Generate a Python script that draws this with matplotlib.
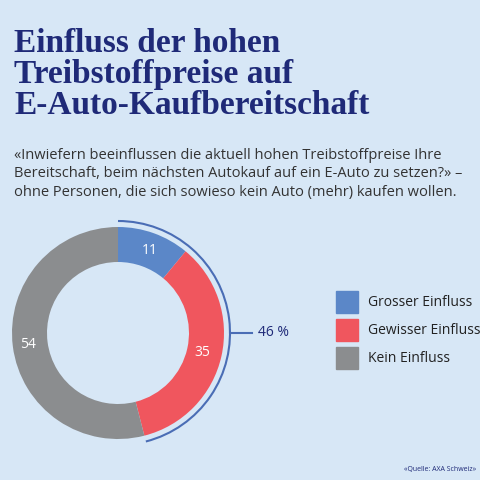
import matplotlib.pyplot as plt
from matplotlib.patches import Arc, Rectangle

labels = ['Grosser Einfluss', 'Gewisser Einfluss', 'Kein Einfluss']
values = [11, 35, 54]
colors = ['#5b87c8', '#f0565e', '#8b8d8f']
bracket_value = 46

bg = '#d7e7f6'
navy = '#1f2a78'

fig = plt.figure(figsize=(4.8, 4.8), dpi=100, facecolor=bg)
ax = fig.add_axes([0, 0, 1, 1])
ax.set_facecolor(bg)

# titel
title = 'Einfluss der hohen\nTreibstoffpreise auf\nE-Auto-Kaufbereitschaft'
ax.text(14, 452, title, fontsize=24, fontweight='bold', family='Liberation Serif',
        color=navy, va='top', linespacing=1.0)
sub = ('«Inwiefern beeinflussen die aktuell hohen Treibstoffpreise Ihre\n'
       'Bereitschaft, beim nächsten Autokauf auf ein E-Auto zu setzen?» –\n'
       'ohne Personen, die sich sowieso kein Auto (mehr) kaufen wollen.')
ax.text(14, 480 - 148, sub, fontsize=10.5, family='Open Sans', color='#333333',
        va='top', linespacing=1.3)

# donut
cx, cy, r = 118, 480 - 333, 106
ax.pie(values, colors=colors, startangle=90, counterclock=False,
       radius=r, center=(cx, cy), frame=True,
       wedgeprops=dict(width=35, edgecolor='none'))
ax.set_xlim(0, 480)
ax.set_ylim(0, 480)
ax.set_aspect('equal')
ax.axis('off')

for val, pos in zip(values, [(150, 250), (202, 353), (28, 345)]):
    ax.text(pos[0], 480 - pos[1], str(val), fontsize=10, family='Open Sans',
            color='white', ha='center', va='center')

# klammer 46 %
ra = 112
ax.add_patch(Arc((cx, cy), 2 * ra, 2 * ra, theta1=90 - bracket_value * 3.6, theta2=90,
                 color='#4a6db5', lw=1.5))
ax.plot([cx + ra, cx + ra + 22], [cy, cy], color='#4a6db5', lw=1.5)
ax.text(cx + ra + 28, cy, f'{bracket_value} %', fontsize=10, family='Open Sans',
        color=navy, va='center')

# legende
for i, (lab, col) in enumerate(zip(labels, colors)):
    y = 480 - 302 - i * 28
    ax.add_patch(Rectangle((336, y - 11), 22, 22, color=col))
    ax.text(368, y, lab, fontsize=10, family='Open Sans', color='#222222', va='center')

ax.text(476, 480 - 470, '«Quelle: AXA Schweiz»', fontsize=5, family='Open Sans',
        color=navy, va='center', ha='right')

fig.savefig('out.png', dpi=100, facecolor=bg)
